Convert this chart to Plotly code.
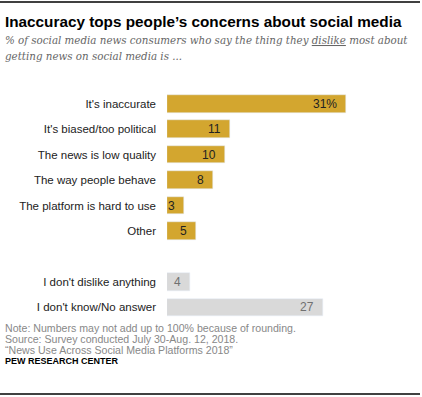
import plotly.graph_objects as go

# Data
main_categories = ["It's inaccurate", "It's biased/too political", "The news is low quality",
                   "The way people behave", "The platform is hard to use", "Other"]
main_values = [31, 11, 10, 8, 3, 5]
other_categories = ["I don't dislike anything", "I don't know/No answer"]
other_values = [4, 27]

title = "Inaccuracy tops people\u2019s concerns about social media"
subtitle1 = "% of social media news consumers who say the thing they <u>dislike</u> most about"
subtitle2 = "getting news on social media is ..."
notes = ["Note: Numbers may not add up to 100% because of rounding.",
         "Source: Survey conducted July 30-Aug. 12, 2018.",
         "\u201cNews Use Across Social Media Platforms 2018\u201d"]
credit = "PEW RESEARCH CENTER"

GOLD = "#D3A62F"
GRAY = "#D9D9D9"

FW, FH = 422, 397
PL, PR, PT, PB = 167, 397, 91, 320   # plot area in pixels
XMAX = (PR - PL) / 5.76
RULE_Y = [2, 394]      # decorative rules (pixel rows)
RULE_X = [0, 420]

def fx(px):
    return px / FW

def fy(py):
    return 1 - py / FH

main_pos = list(range(len(main_categories)))
other_pos = [len(main_categories) + 1 + i for i in range(len(other_categories))]

fig = go.Figure()
fig.add_trace(go.Bar(y=main_pos, x=main_values, orientation="h", marker_color=GOLD,
                     width=0.69, hoverinfo="skip"))
fig.add_trace(go.Bar(y=other_pos, x=other_values, orientation="h", marker_color=GRAY,
                     width=0.69, hoverinfo="skip"))
# full-figure overlay axes for the top and bottom rules
for ry in RULE_Y:
    fig.add_trace(go.Scatter(x=RULE_X, y=[ry, ry], xaxis="x2", yaxis="y2", mode="lines",
                             line=dict(color="#000000", width=1.5), hoverinfo="skip",
                             cliponaxis=False))

ann = []
for i, (p, v) in enumerate(zip(main_pos, main_values)):
    ann.append(dict(x=v, y=p, xref="x", yref="y", text=f"{v}%" if i == 0 else str(v),
                    showarrow=False, xanchor="right", xshift=-7,
                    font=dict(size=12, color="#222222", family="Liberation Sans")))
for p, v in zip(other_pos, other_values):
    ann.append(dict(x=v, y=p, xref="x", yref="y", text=str(v),
                    showarrow=False, xanchor="right", xshift=-7,
                    font=dict(size=12, color="#707070", family="Liberation Sans")))

ann.append(dict(x=fx(3), y=fy(22), xref="paper", yref="paper", text=f"<b>{title}</b>",
                showarrow=False, xanchor="left", yanchor="middle",
                font=dict(size=15.3, color="#000000", family="Liberation Sans")))
ann.append(dict(x=fx(3), y=fy(40), xref="paper", yref="paper", text=f"<i>{subtitle1}</i>",
                showarrow=False, xanchor="left", yanchor="middle",
                font=dict(size=10.3, color="#666666", family="DejaVu Serif")))
ann.append(dict(x=fx(3), y=fy(56), xref="paper", yref="paper", text=f"<i>{subtitle2}</i>",
                showarrow=False, xanchor="left", yanchor="middle",
                font=dict(size=10.3, color="#666666", family="DejaVu Serif")))
for k, line in enumerate(notes):
    ann.append(dict(x=fx(3), y=fy(328 + 10.8 * k), xref="paper", yref="paper", text=line,
                    showarrow=False, xanchor="left", yanchor="middle",
                    font=dict(size=10.6, color="#888888", family="Liberation Sans")))
ann.append(dict(x=fx(3), y=fy(361), xref="paper", yref="paper", text=f"<b>{credit}</b>",
                showarrow=False, xanchor="left", yanchor="middle",
                font=dict(size=9, color="#000000", family="Liberation Sans")))

fig.update_layout(
    width=FW, height=FH,
    margin=dict(l=0, r=0, t=0, b=0, pad=0),
    paper_bgcolor="white", plot_bgcolor="rgba(0,0,0,0)",
    showlegend=False, bargap=0,
    annotations=ann,
    xaxis=dict(range=[0, XMAX], visible=False, fixedrange=True, automargin=False,
               domain=[fx(PL), fx(PR)]),
    yaxis=dict(range=[len(main_categories) + len(other_categories) + 0.5, -0.5],
               domain=[fy(PB), fy(PT)], automargin=False,
               tickvals=main_pos + other_pos, ticktext=main_categories + other_categories,
               ticks="", showgrid=False, zeroline=False, showline=False,
               ticklabelstandoff=10,
               tickfont=dict(size=11.5, color="#222222", family="Liberation Sans"),
               fixedrange=True),
    xaxis2=dict(range=[0, FW], domain=[0, 1], anchor="y2", visible=False,
                fixedrange=True, automargin=False),
    yaxis2=dict(range=[FH, 0], domain=[0, 1], anchor="x2", visible=False,
                fixedrange=True, automargin=False),
)

fig.write_html("out.html", config={"displayModeBar": False},
               post_script="document.body.style.margin='0';document.body.style.overflow='hidden';")
